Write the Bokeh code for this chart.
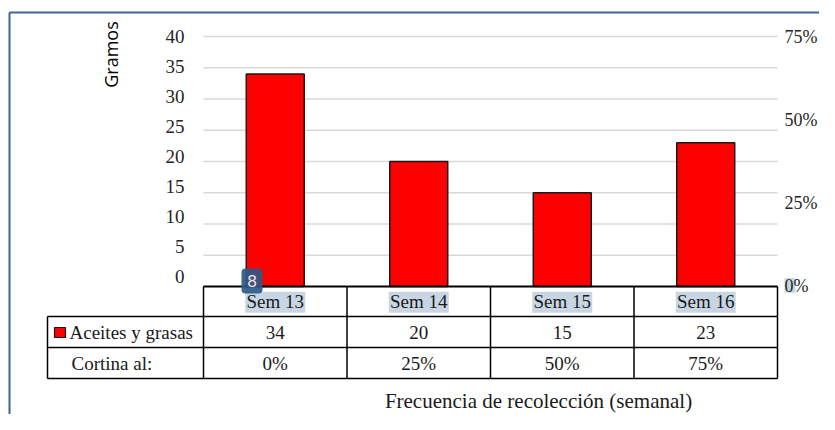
import numpy as np
from bokeh.plotting import figure
from bokeh.models import Range1d
from bokeh.core.properties import value
from bokeh.embed import file_html
from bokeh.resources import INLINE

# ---------------- data ----------------
weeks = ["Sem 13", "Sem 14", "Sem 15", "Sem 16"]
grams = [34, 20, 15, 23]
cortina = ["0%", "25%", "50%", "75%"]
series_name = "Aceites y grasas"
row2_label = "Cortina al:"
left_ticks = [0, 5, 10, 15, 20, 25, 30, 35, 40]
right_ticks = [0, 0.25, 0.5, 0.75]
right_tick_labels = ["0%", "25%", "50%", "75%"]
y_title = "Gramos"
x_title = "Frecuencia de recolección (semanal)"
badge_text = "8"

# ---------------- layout (figure pixels) ----------------
W, H = 819, 414
PL, COLW = 203.0, 143.5          # plot left px, column width px
Y0, PPG = 286.0, 6.25            # px of value 0, px per gram


def X(px):
    return (px - PL) / COLW


def Y(py):
    return (Y0 - py) / PPG


SERIF = value("Liberation Serif")
FS = "19px"

p = figure(width=W, height=H, output_backend="svg", toolbar_location=None,
           x_range=Range1d(X(0), X(W)), y_range=Range1d(Y(H), Y(0)),
           x_axis_location=None, y_axis_location=None,
           min_border=0, min_border_left=0, min_border_right=0,
           min_border_top=0, min_border_bottom=0)
p.outline_line_color = None
p.grid.visible = False
p.background_fill_color = "white"
p.border_fill_color = "white"

# label ranges (tick labels in the source are spaced slightly differently)
p.extra_y_ranges = {
    "lbl": Range1d(-(H - 276) / 6.0, 40 + 36 / 6.0),
    "pct": Range1d(-(H - 285) / 332.0, 0.75 + 36 / 332.0),
}

n = len(weeks)
xc = np.arange(n) + 0.5

# chart frame border (blue)
p.segment(x0=[X(9), X(9)], y0=[Y(12), Y(12)], x1=[X(9), X(W + 5)], y1=[Y(H + 5), Y(12)],
          line_color="#41639b", line_width=2)

# gridlines
g = [t for t in left_ticks if t > 0]
p.segment(x0=[0] * len(g), x1=[n] * len(g), y0=g, y1=g,
          line_color="#d9d9d9", line_width=1.5)

# bars
p.vbar(x=xc, top=grams, bottom=0, width=0.404, fill_color="#ff0000",
       line_color="#1a1a1a", line_width=1.5)

# left tick labels
p.text(x=[X(184)] * len(left_ticks), y=left_ticks, text=[str(t) for t in left_ticks],
       text_font=SERIF, text_font_size=FS, text_align="right",
       text_baseline="middle", text_color="#262626", y_range_name="lbl")

# highlight behind right "0"
p.quad(left=[X(784)], right=[X(795)], top=[0.022], bottom=[-0.022],
       fill_color="#c8d6e4", line_color=None, y_range_name="pct")
# right tick labels
p.text(x=[X(784)] * len(right_ticks), y=right_ticks, text=right_tick_labels,
       text_font=SERIF, text_font_size="18px", text_align="left",
       text_baseline="middle", text_color="#262626", y_range_name="pct")

# y title
p.text(x=[X(110)], y=[Y(54)], text=[y_title], angle=np.pi / 2,
       text_font=value("Open Sans"), text_font_size="18px", text_align="center",
       text_baseline="middle", text_color="#000000")

# ---------------- data table ----------------
r0, r1, r2, r3 = Y(286), Y(316), Y(347), Y(378)
tl = X(47)
# horizontal lines
p.segment(x0=[0], x1=[n], y0=[r0], y1=[r0], line_color="black", line_width=2)
p.segment(x0=[tl, tl, tl], x1=[n, n, n], y0=[r1, r2, r3], y1=[r1, r2, r3],
          line_color="black", line_width=1.5)
# vertical lines
vx = list(range(n + 1))
p.segment(x0=vx, x1=vx, y0=[r0] * len(vx), y1=[r3] * len(vx),
          line_color="black", line_width=1.5)
p.segment(x0=[tl], x1=[tl], y0=[r1], y1=[r3], line_color="black", line_width=1.5)

# header highlight + labels
hy = (r0 + r1) / 2
p.rect(x=xc, y=[hy - 0.1] * n, width=60 / COLW, height=21 / PPG,
       fill_color="#c8d6e4", line_color=None)
p.text(x=xc, y=[hy] * n, text=weeks, text_font=SERIF, text_font_size=FS,
       text_align="center", text_baseline="middle", text_color="#1a1a1a")

# row 1: series values
ry1 = (r1 + r2) / 2
p.text(x=xc, y=[ry1] * n, text=[str(v) for v in grams], text_font=SERIF,
       text_font_size=FS, text_align="center", text_baseline="middle",
       text_color="#1a1a1a")
p.quad(left=[X(54)], right=[X(65)], top=[Y(327)], bottom=[Y(337)],
       fill_color="#ff0000", line_color="#1a1a1a", line_width=1.2)
p.text(x=[X(69)], y=[ry1], text=[series_name], text_font=SERIF, text_font_size=FS,
       text_align="left", text_baseline="middle", text_color="#1a1a1a")

# row 2: cortina
ry2 = (r2 + r3) / 2
p.text(x=xc, y=[ry2] * n, text=cortina, text_font=SERIF, text_font_size=FS,
       text_align="center", text_baseline="middle", text_color="#1a1a1a")
p.text(x=[X(71)], y=[ry2], text=[row2_label], text_font=SERIF, text_font_size=FS,
       text_align="left", text_baseline="middle", text_color="#1a1a1a")

# x title
p.text(x=[X(538)], y=[Y(400)], text=[x_title], text_font=SERIF, text_font_size="21px",
       text_align="center", text_baseline="middle", text_color="#1a1a1a")

# badge marker
p.quad(left=[X(241)], right=[X(262)], top=[Y(268)], bottom=[Y(293)],
       fill_color="#2d5985", fill_alpha=0.92, line_color=None, border_radius=4)
p.text(x=[X(251.5)], y=[Y(280.5)], text=[badge_text], text_font=value("DejaVu Sans"),
       text_font_size="16px", text_align="center", text_baseline="middle",
       text_color="#f4dde2")

open("out.html", "w").write(file_html(p, INLINE))
